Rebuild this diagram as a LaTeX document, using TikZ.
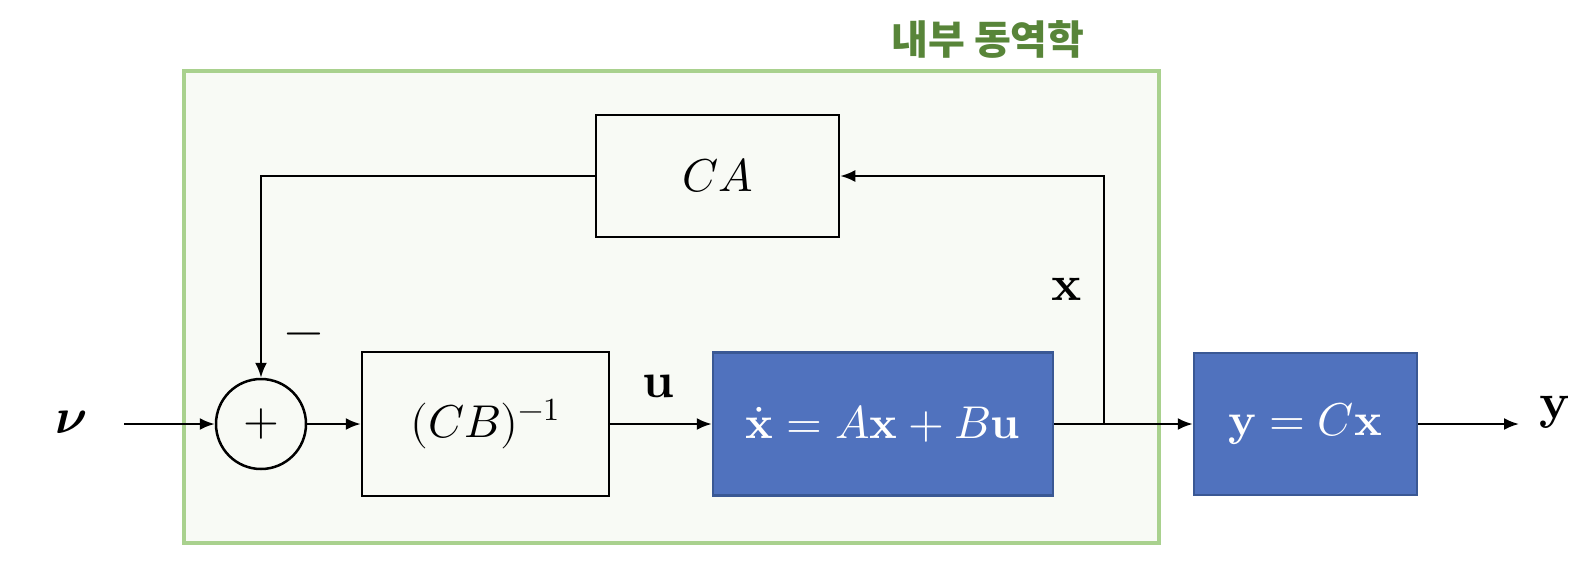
\documentclass[tikz,border=0pt]{standalone}
\usepackage{amsmath}
\usepackage{fontspec}
\usepackage{unicode-math}
\setmathfont{Latin Modern Math}
\newfontfamily\krfont{Noto Sans CJK KR}
\usetikzlibrary{arrows.meta}
\definecolor{greenfill}{HTML}{F8FAF5}
\definecolor{greenborder}{HTML}{A9D18E}
\definecolor{titlegreen}{HTML}{588539}
\definecolor{bluefill}{HTML}{5072BE}
\definecolor{blueborder}{HTML}{3A5894}
\begin{document}
\begin{tikzpicture}[x=1pt,y=-1pt,
  arr/.style={line width=2.3pt,-{Latex[length=15pt,width=12pt]}},
  wbox/.style={draw=black,line width=2.5pt,fill=greenfill,inner sep=0pt,font=\fontsize{46}{52}\selectfont},
  bbox/.style={draw=blueborder,line width=2.5pt,fill=bluefill,inner sep=0pt,text=white,font=\fontsize{46}{52}\selectfont},
  lbl/.style={inner sep=0pt,font=\fontsize{50}{56}\selectfont}]
\useasboundingbox (0,0) rectangle (1592,576);
\node[draw=greenborder,line width=3.5pt,fill=greenfill,minimum width=975pt,minimum height=472pt,inner sep=0pt] (inner) at (671.5,307) {};
\node[text=titlegreen,font=\krfont\bfseries\fontsize{40}{44}\selectfont,inner sep=0pt] (title) at (988,39) {내부 동역학};
\node[wbox,minimum width=243pt,minimum height=122pt] (ca) at (717.5,176) {$CA$};
\node[draw=black,line width=2.5pt,circle,minimum size=90pt,inner sep=0pt,fill=greenfill,font=\fontsize{46}{52}\selectfont] (sum) at (261,424) {$+$};
\node[wbox,minimum width=247pt,minimum height=144pt] (cb) at (485.5,424) {$(CB)^{-1}$};
\node[bbox,minimum width=340pt,minimum height=143pt] (dyn) at (883,424) {$\dot{\symbf{x}}=A\symbf{x}+B\symbf{u}$};
\node[bbox,minimum width=223pt,minimum height=142pt] (out) at (1305.5,424) {$\symbf{y}=C\symbf{x}$};
\node[lbl] (v) at (71,422) {$\symbfit{\nu}$};
\node[lbl] (u) at (659,386) {$\symbf{u}$};
\node[lbl] (xl) at (1067,289) {$\symbf{x}$};
\node[lbl] (minus) at (304,340) {$\symbf{-}$};
\node[lbl] (yl) at (1555,412) {$\symbf{y}$};
\coordinate (vin) at (124,424);
\coordinate (j) at (1104,424);
\coordinate (yend) at (1519,424);
\draw[arr] (vin) -- (sum.west);
\draw[arr] (sum.east) -- (cb.west);
\draw[arr] (cb.east) -- (dyn.west);
\draw[arr] (dyn.east) -- (out.west);
\draw[arr] (j) |- (ca.east);
\draw[arr] (ca.west) -| (sum.north);
\draw[arr] (out.east) -- (yend);
\end{tikzpicture}
\end{document}
